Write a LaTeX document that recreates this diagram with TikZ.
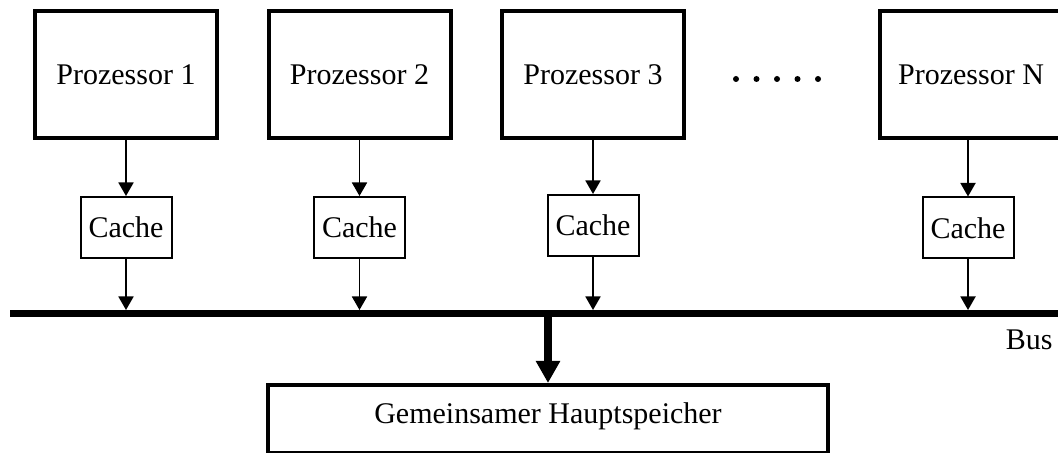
\documentclass[tikz,border=0pt]{standalone}
\usepackage{fontspec}
\setmainfont{Liberation Serif}
\usetikzlibrary{arrows.meta}
\tikzset{
 cpu/.style={draw,line width=2pt,minimum width=91pt,minimum height=63.5pt,inner sep=0,font=\fontsize{15}{18}\selectfont},
 cache/.style={draw,line width=1pt,minimum width=45.5pt,minimum height=30.5pt,inner sep=0,font=\fontsize{15}{18}\selectfont},
 membox/.style={draw,line width=2pt,minimum width=280pt,minimum height=34pt,inner sep=0,text height=10pt,text depth=6pt,font=\fontsize{15}{18}\selectfont},
 bus/.style={fill,minimum width=524pt,minimum height=3.5pt,inner sep=0,outer sep=0},
 link/.style={line width=.9pt,-{Triangle[length=6.75pt,width=7.5pt]}},
 buslink/.style={line width=4.25pt,-{Triangle[length=11pt,width=11.5pt]}},
 busdot/.style={circle,fill,minimum size=3pt,inner sep=0}
}
\begin{document}
\begin{tikzpicture}[x=0.5pt,y=-0.5pt]
\path[use as bounding box] (0,0) rectangle (1058,453);
\node[cpu] (p1) at (126,74.5) {Prozessor 1};
\node[cpu] (p2) at (359.5,74.5) {Prozessor 2};
\node[cpu] (p3) at (593,74.5) {Prozessor 3};
\node[cpu] (pn) at (971,74.5) {Prozessor N};
\foreach \i in {0,...,4}
  \node[busdot] (dot\i) at (736+20.5*\i,79) {};
\node[cache] (c1) at (126,227.5) {Cache};
\node[cache] (c2) at (359.5,227.5) {Cache};
\node[cache] (c3) at (593,225.5) {Cache};
\node[cache] (cn) at (968,228) {Cache};
\node[bus] (bus) at (534,313.5) {};
\node[anchor=base east,inner sep=0,font=\fontsize{15}{18}\selectfont] (buslbl) at (1053,350) {Bus};
\node[membox] (mem) at (548,419) {Gemeinsamer Hauptspeicher};
% Prozessor -> Cache -> Bus
\foreach \p/\c in {p1/c1,p2/c2,p3/c3,pn/cn}{
  \draw[link] (\c.north |- \p.south) -- (\c.north);
  \draw[link] (\c.south) -- (\c.south |- bus.north);
}
\draw[buslink] (mem.north |- bus.south) -- (mem.north);
\end{tikzpicture}
\end{document}
